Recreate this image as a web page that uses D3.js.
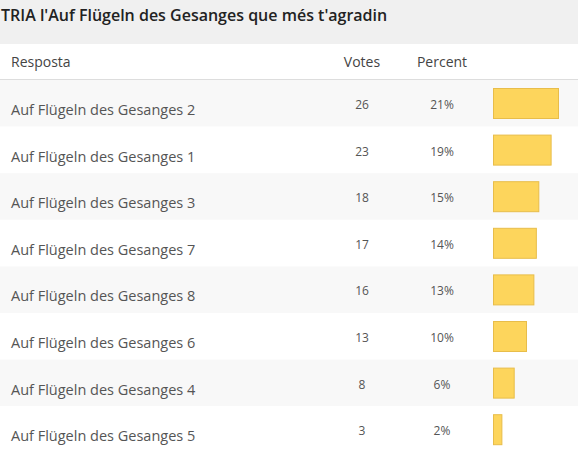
<!DOCTYPE html>
<html><head><meta charset="utf-8">
<script src="https://cdn.jsdelivr.net/npm/d3@7"></script>
<style>
html,body{margin:0;padding:0;background:#fff;}
svg{display:block;}
</style></head>
<body>
<script>
const title = "TRIA l'Auf Flügeln des Gesanges que més t'agradin";
const headers = ["Resposta", "Votes", "Percent"];
const categories = ["Auf Flügeln des Gesanges 2","Auf Flügeln des Gesanges 1","Auf Flügeln des Gesanges 3","Auf Flügeln des Gesanges 7","Auf Flügeln des Gesanges 8","Auf Flügeln des Gesanges 6","Auf Flügeln des Gesanges 4","Auf Flügeln des Gesanges 5"];
const votes = [26, 23, 18, 17, 16, 13, 8, 3];
const percents = ["21%", "19%", "15%", "14%", "13%", "10%", "6%", "2%"];

const W = 578, H = 452;
const svg = d3.select("body").append("svg").attr("width", W).attr("height", H);
const font = "'Open Sans', 'Segoe UI', sans-serif";

// title band
svg.append("rect").attr("x",0).attr("y",0).attr("width",W).attr("height",44).attr("fill","#f0f0f0");
svg.append("text").attr("x",1).attr("y",21).text(title)
  .attr("font-family",font).attr("font-size",16).attr("font-weight",600).attr("fill","#222");

// header
svg.append("rect").attr("x",0).attr("y",44).attr("width",W).attr("height",35).attr("fill","#fff");
svg.append("line").attr("x1",0).attr("x2",W).attr("y1",79.5).attr("y2",79.5).attr("stroke","#dddddd");
const colVotes = 362, colPct = 442;
svg.append("text").attr("x",11).attr("y",67).text(headers[0]).attr("font-family",font).attr("font-size",14).attr("fill","#444");
svg.append("text").attr("x",colVotes).attr("y",67).attr("text-anchor","middle").text(headers[1]).attr("font-family",font).attr("font-size",14).attr("fill","#444");
svg.append("text").attr("x",colPct).attr("y",67).attr("text-anchor","middle").text(headers[2]).attr("font-family",font).attr("font-size",14).attr("fill","#444");

const y = d3.scaleBand().domain(categories).range([80, 80 + 8*46.6]).paddingInner(0).paddingOuter(0);
const x = d3.scaleLinear().domain([0, d3.max(votes)]).range([0, 64]);
const data = categories.map((c,i)=>({c, v:votes[i], p:percents[i], i}));

const rows = svg.append("g").selectAll("g").data(data).join("g")
  .attr("transform", d=>`translate(0,${y(d.c)})`);
rows.append("rect").attr("x",0).attr("y",0).attr("width",W).attr("height",y.bandwidth())
  .attr("fill", d=> d.i%2===0 ? "#f8f8f8" : "#ffffff");
rows.append("text").attr("x",11).attr("y",35).text(d=>d.c)
  .attr("font-family",font).attr("font-size",14.5).attr("fill","#555");
rows.append("text").attr("x",colVotes).attr("y",29).attr("text-anchor","middle").text(d=>d.v)
  .attr("font-family",font).attr("font-size",12).attr("fill","#555");
rows.append("text").attr("x",colPct).attr("y",29).attr("text-anchor","middle").text(d=>d.p)
  .attr("font-family",font).attr("font-size",12).attr("fill","#555");
rows.append("rect").attr("x",493.5).attr("y",8.5).attr("width",d=>x(d.v)+1).attr("height",30)
  .attr("fill","#fdd55c").attr("stroke","#e8bd4a").attr("stroke-width",1);
</script>
</body></html>
